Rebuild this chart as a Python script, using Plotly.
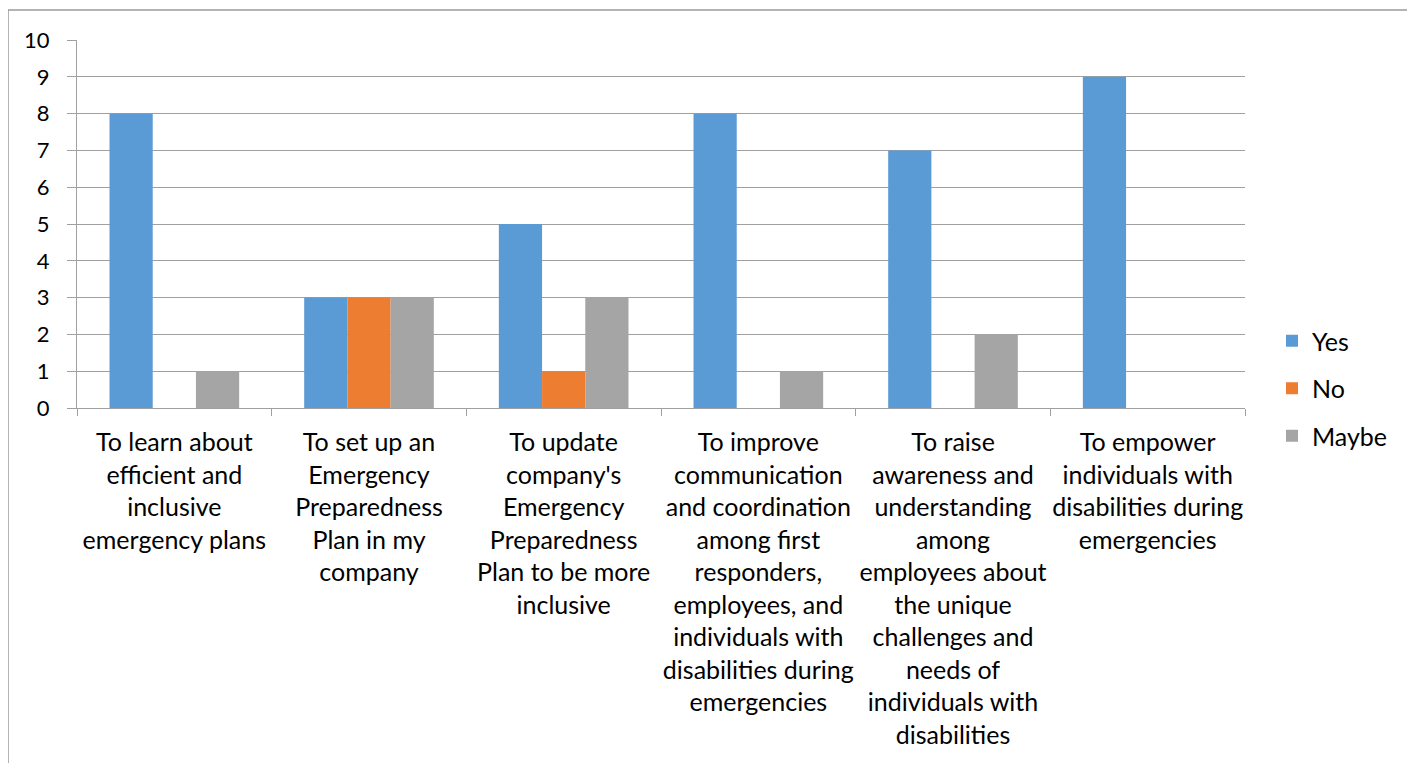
import plotly.graph_objects as go

categories = [
    "To learn about<br>efficient and<br>inclusive<br>emergency plans",
    "To set up an<br>Emergency<br>Preparedness<br>Plan in my<br>company",
    "To update<br>company's<br>Emergency<br>Preparedness<br>Plan to be more<br>inclusive",
    "To improve<br>communication<br>and coordination<br>among first<br>responders,<br>employees, and<br>individuals with<br>disabilities during<br>emergencies",
    "To raise<br>awareness and<br>understanding<br>among<br>employees about<br>the unique<br>challenges and<br>needs of<br>individuals with<br>disabilities",
    "To empower<br>individuals with<br>disabilities during<br>emergencies",
]
yes_vals = [8, 3, 5, 8, 7, 9]
no_vals = [0, 3, 1, 0, 0, 0]
maybe_vals = [1, 3, 3, 1, 2, 0]

series = [
    ("Yes", yes_vals, "#5B9BD5"),
    ("No", no_vals, "#ED7D31"),
    ("Maybe", maybe_vals, "#A5A5A5"),
]

FONT = "Lato"
GRID = "#A0A0A0"

fig = go.Figure()
for name, vals, color in series:
    fig.add_trace(go.Bar(
        x=categories, y=vals, name=name,
        marker=dict(color=color, line=dict(width=0)),
        legendgroup=name,
    ))

# page has an 8px body margin, so figure coords = page coords - 8
W, H = 1407, 755
L, R, T, B = 69, 1237, 32, 400
pw, ph = R - L, B - T

fig.update_layout(
    width=W, height=H,
    barmode="group", bargap=0.334, bargroupgap=0,
    plot_bgcolor="white", paper_bgcolor="white",
    margin=dict(l=L, r=W - R, t=T, b=H - B, pad=0),
    font=dict(family=FONT, size=25, color="black"),
    legend=dict(
        x=(1264 - L) / pw, y=(B - 310) / ph, xanchor="left", yanchor="top",
        font=dict(size=25), tracegroupgap=12, bgcolor="rgba(0,0,0,0)",
    ),
    xaxis=dict(
        type="category", showgrid=False, zeroline=False, automargin=False,
        showline=True, linecolor=GRID, linewidth=1, tickangle=0,
        ticks="outside", tickson="boundaries", ticklen=7, tickcolor=GRID,
        tickfont=dict(size=25), ticklabelstandoff=12,
    ),
    yaxis=dict(
        range=[0, 10], dtick=1, showgrid=True, gridcolor=GRID, gridwidth=1,
        zeroline=False, showline=True, linecolor=GRID, linewidth=1, automargin=False,
        ticks="outside", ticklen=9, tickcolor=GRID,
        tickfont=dict(size=22), ticklabelstandoff=13,
    ),
    shapes=[dict(
        type="rect", xref="paper", yref="paper",
        x0=(0 - L) / pw, x1=(1401 - L) / pw,
        y0=(B - 790) / ph, y1=(B - 2) / ph,
        line=dict(color="#9A9A9A", width=1.5), fillcolor="rgba(0,0,0,0)",
        layer="below",
    )],
)

fig.write_html("out.html")
